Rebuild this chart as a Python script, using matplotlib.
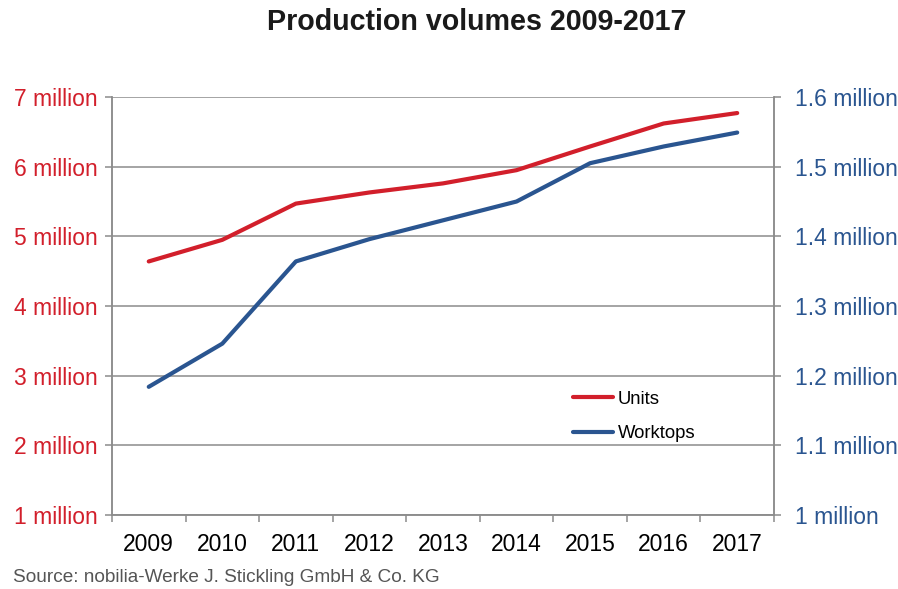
import matplotlib.pyplot as plt
from matplotlib.ticker import FixedLocator

# Production volumes
years = ["2009", "2010", "2011", "2012", "2013", "2014", "2015", "2016", "2017"]
units = [4.64, 4.95, 5.47, 5.63, 5.76, 5.95, 6.29, 6.62, 6.77]          # million
worktops = [1.184, 1.246, 1.364, 1.396, 1.423, 1.450, 1.505, 1.529, 1.549]  # million

left_ticks = [1, 2, 3, 4, 5, 6, 7]
left_labels = ["1 million", "2 million", "3 million", "4 million", "5 million", "6 million", "7 million"]
right_ticks = [1.0, 1.1, 1.2, 1.3, 1.4, 1.5, 1.6]
right_labels = ["1 million", "1.1 million", "1.2 million", "1.3 million", "1.4 million", "1.5 million", "1.6 million"]

red = "#D21F2B"
blue = "#2A5590"
grid = "#8C8C8C"

plt.rcParams['font.family'] = ['Liberation Sans', 'DejaVu Sans']

fig = plt.figure(figsize=(8.98, 5.89), dpi=100)
ax = fig.add_axes([0.1247, 0.1256, 0.8619 - 0.1247, 0.8353 - 0.1256])
ax2 = ax.twinx()

x = list(range(len(years)))
l1, = ax.plot(x, units, color=red, lw=3, solid_capstyle='round', label="Units")
l2, = ax2.plot(x, worktops, color=blue, lw=3, solid_capstyle='round', label="Worktops")

ax.set_xlim(-0.5, len(years) - 0.5)
ax.set_ylim(1, 7)
ax2.set_ylim(1.0, 1.6)

ax.set_yticks(left_ticks)
ax.set_yticklabels(left_labels, color=red, fontsize=16.5)
ax2.set_yticks(right_ticks)
ax2.set_yticklabels(right_labels, color=blue, fontsize=16.5)

ax.set_xticks(x)
ax.set_xticklabels(years, fontsize=16.5)
ax.xaxis.set_minor_locator(FixedLocator([i - 0.5 for i in range(len(years) + 1)]))
ax.tick_params(axis='x', which='major', length=0, pad=13)
ax.tick_params(axis='x', which='minor', length=5, width=1.1, color=grid)
ax.tick_params(axis='y', length=5, width=1.1, color=grid, pad=5.5)
ax2.tick_params(axis='y', length=5, width=1.1, color=grid, pad=10)

ax.grid(axis='y', color=grid, lw=1.1)
ax.set_axisbelow(True)
for a in (ax, ax2):
    a.spines['top'].set_visible(False)
    for s in ('left', 'right', 'bottom'):
        a.spines[s].set_color(grid)
        a.spines[s].set_linewidth(1.1)

ax2.legend(handles=[l1, l2], loc='upper left', bbox_to_anchor=(0.685, 0.315),
           frameon=False, fontsize=13.3, handlelength=2.2, handletextpad=0.25,
           labelspacing=0.95, borderaxespad=0)

fig.text(0.531, 0.962, "Production volumes 2009-2017", ha='center', va='center',
         fontsize=20.6, fontweight='bold', color="#1A1A1A")
fig.text(0.015, 0.02, "Source: nobilia-Werke J. Stickling GmbH & Co. KG", ha='left', va='center',
         fontsize=13.7, color="#555555")

fig.savefig("out.png", dpi=100)
